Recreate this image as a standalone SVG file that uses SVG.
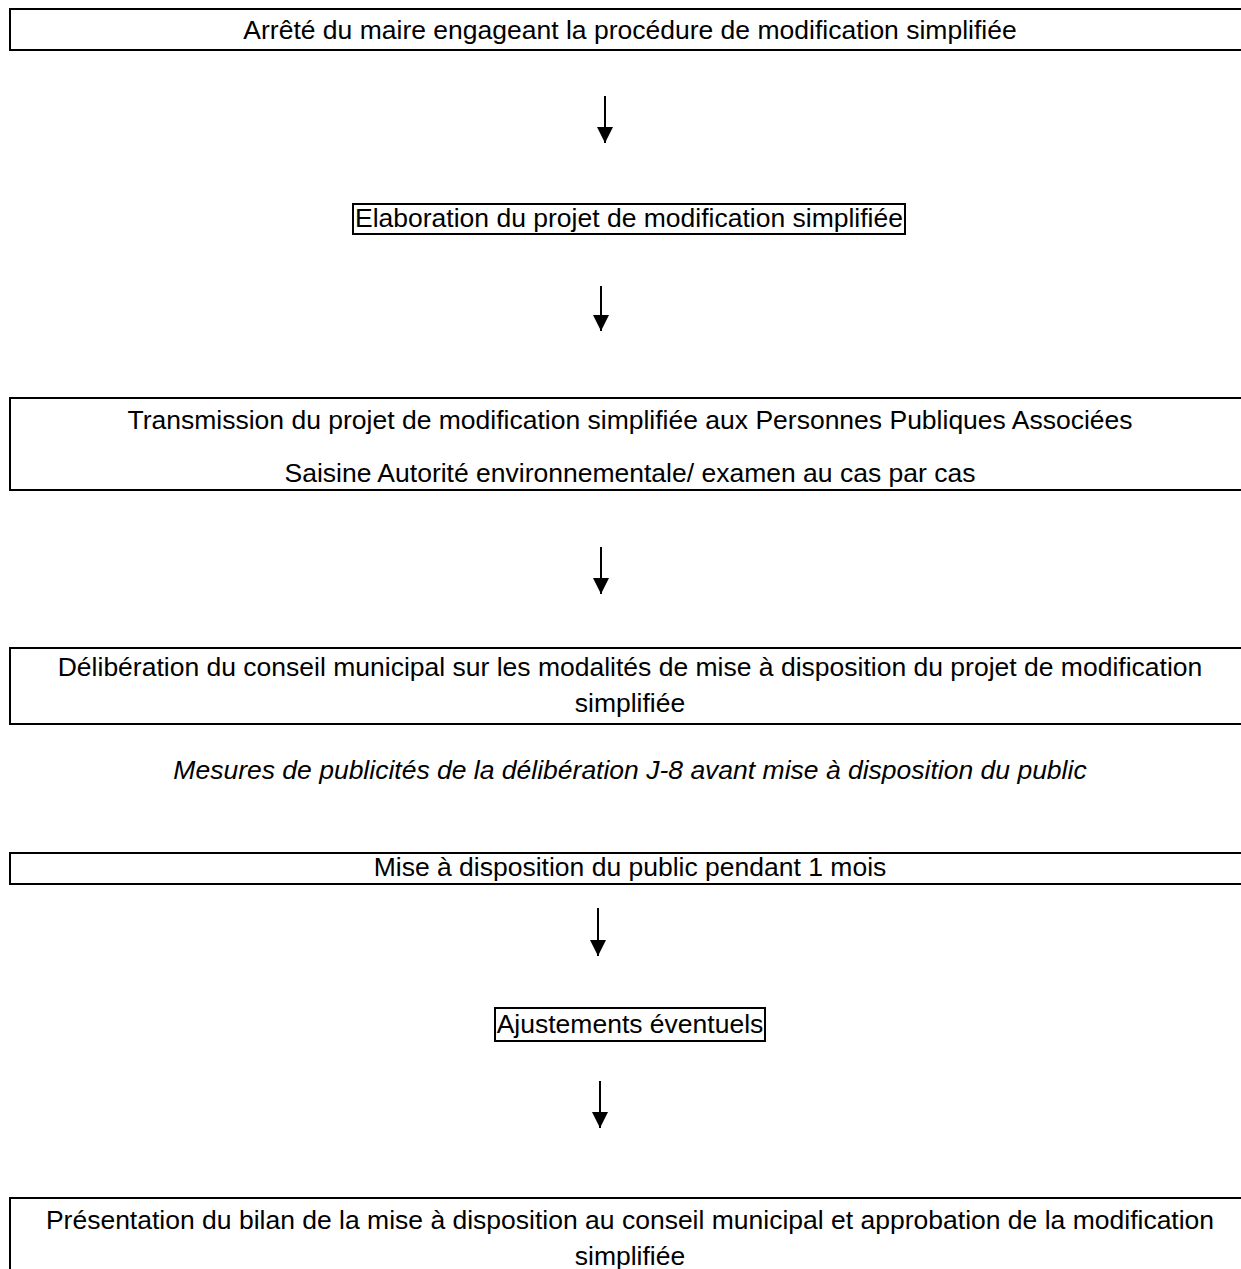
<svg xmlns="http://www.w3.org/2000/svg" width="1241" height="1269" viewBox="0 0 1241 1269">
<style>
.box{fill:none;stroke:#000;stroke-width:2}
.t{font-family:"Liberation Sans",Arial,sans-serif;font-size:26.5px;fill:#000;text-anchor:middle}
.i{font-style:italic}
.c{stroke:#000;stroke-width:2;fill:none}
</style>
<defs>
<marker id="ah" viewBox="0 0 16 16" refX="16" refY="8" markerWidth="16" markerHeight="16" markerUnits="userSpaceOnUse" orient="auto">
<path d="M0,0 L16,8 L0,16 Z" fill="#000"/>
</marker>
</defs>
<rect width="1241" height="1269" fill="#fff"/>
<g id="n1"><rect class="box" x="10" y="9" width="1250" height="41"/><text class="t" x="630" y="39">Arrêté du maire engageant la procédure de modification simplifiée</text></g>
<g id="n2"><rect class="box" x="353" y="204" width="552" height="30"/><text class="t" x="629" y="227">Elaboration du projet de modification simplifiée</text></g>
<g id="n3"><rect class="box" x="10" y="398" width="1250" height="92"/><text class="t" x="630" y="429">Transmission du projet de modification simplifiée aux Personnes Publiques Associées</text><text class="t" x="630" y="482">Saisine Autorité environnementale/ examen au cas par cas</text></g>
<g id="n4"><rect class="box" x="10" y="648" width="1250" height="76"/><text class="t" x="630" y="676">Délibération du conseil municipal sur les modalités de mise à disposition du projet de modification</text><text class="t" x="630" y="712">simplifiée</text></g>
<g id="n5"><text class="t i" x="630" y="779">Mesures de publicités de la délibération J-8 avant mise à disposition du public</text></g>
<g id="n6"><rect class="box" x="10" y="853" width="1250" height="31"/><text class="t" x="630" y="876">Mise à disposition du public pendant 1 mois</text></g>
<g id="n7"><rect class="box" x="495" y="1008" width="270" height="33"/><text class="t" x="630" y="1033">Ajustements éventuels</text></g>
<g id="n8"><rect class="box" x="10" y="1198" width="1250" height="100"/><text class="t" x="630" y="1229">Présentation du bilan de la mise à disposition au conseil municipal et approbation de la modification</text><text class="t" x="630" y="1265">simplifiée</text></g>
<g id="connectors">
<line class="c" x1="605" y1="96" x2="605" y2="143" marker-end="url(#ah)"/>
<line class="c" x1="601" y1="286" x2="601" y2="331" marker-end="url(#ah)"/>
<line class="c" x1="601" y1="547" x2="601" y2="594" marker-end="url(#ah)"/>
<line class="c" x1="598" y1="908" x2="598" y2="956" marker-end="url(#ah)"/>
<line class="c" x1="600" y1="1081" x2="600" y2="1128" marker-end="url(#ah)"/>
</g>
</svg>
